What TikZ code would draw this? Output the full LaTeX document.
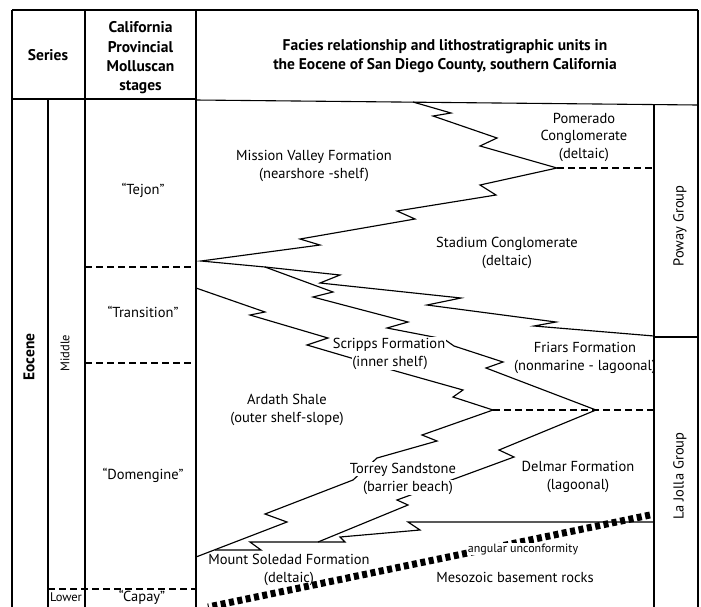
\documentclass[tikz,border=0pt]{standalone}
\usepackage{fontspec}
\setmainfont{PT Sans}
\usetikzlibrary{positioning}
\newcommand{\unitfont}{\fontsize{14.5}{17.5}\selectfont}
\newcommand{\hdfont}{\fontsize{15.5}{19.4}\selectfont\bfseries}
\newcommand{\smfont}{\fontsize{12.5}{15}\selectfont}
\begin{document}
\begin{tikzpicture}[
    x=1pt, y=-1pt,
    every node/.style={font=\unitfont, align=center, inner sep=1pt},
    head/.style={font=\hdfont},
    minor/.style={font=\smfont},
    mask/.style={fill=white, inner sep=0.5pt},
    rule/.style={line width=1.1pt},
    zig/.style={line width=1.15pt},
    contact/.style={line width=1.1pt, dash pattern=on 6.5pt off 4.5pt},
    unconf/.style={line width=7pt, dash pattern=on 5pt off 3.5pt}
]
\useasboundingbox (0,0) rectangle (701,606);

% Frame and columns
\draw[rule] (12,10) -- (698,10);
\draw[rule] (12,10) -- (12,612);
\draw[rule] (85,10) -- (85,612);
\draw[rule] (196,10) -- (196,612);
\draw[rule] (698,10) -- (698,612);
\draw[rule] (48,99) -- (48,612);
\draw[rule] (12,99) -- (196,99);
\draw[rule] (196,100) -- (698,105);
\draw[rule] (654,105) -- (654,612);
\draw[rule] (654,337) -- (698,337);

% Stage boundaries
\draw[contact] (85,267) -- (196,267);
\draw[contact] (85,363) -- (196,363);
\draw[contact] (48,589) -- (196,589);

% Pinch-out points
\coordinate (apex) at (201,261);
\coordinate (fork) at (265,267);
\coordinate (pomtip) at (557,168);
\coordinate (tipA) at (493,410);
\coordinate (tipB) at (596,410);
\coordinate (toe) at (318,542);

% Facies contacts
\draw[zig] (413,102) -- (451,113) -- (433,116) -- (497,138) -- (480,146) -- (pomtip)
  -- (480,185) -- (496,195) -- (397,211) -- (415,219) -- (300,239) -- (320,245) -- (apex) -- (fork);
\draw[zig] (fork) -- (340,275) -- (320,283) -- (461,298) -- (427,305) -- (556,322) -- (534,326) -- (654,336);
\draw[zig] (fork) -- (333,292) -- (313,297) -- (408,322) -- (387,328) -- (444,339) -- (454,346)
  -- (503,362) -- (486,368) -- (tipB);
\draw[zig] (196,288) -- (265,312) -- (250,315) -- (328,338) -- (307,345) -- (392,370)
  -- (463,390) -- (453,397) -- (tipA);
\draw[zig] (tipA) -- (422,435) -- (437,441) -- (377,458) -- (353,480) -- (265,514) -- (287,522) -- (196,557);
\draw[zig] (tipB) -- (499,450) -- (514,457) -- (397,500) -- (408,505) -- (toe);
\draw[zig] (215,550) -- (261,550) -- (250,542) -- (345,542) -- (340,537) -- (420,530) -- (408,522) -- (654,522);
\draw[contact] (pomtip) -- (pomtip -| 654,0);
\draw[contact] (tipA) -- (tipA -| 654,0);

% Headers
\node[head, anchor=base] (series) at (48,60) {Series};
\node[head] (stages) at (140.5,58) {California\\Provincial\\Molluscan\\stages};
\node[head] (title) at (445,56) {Facies relationship and lithostratigraphic units in\\the Eocene of San Diego County, southern California};

% Time scale
\node[head, rotate=90] (eocene) at (29,357) {Eocene};
\node[minor, rotate=90] (middle) at (65,353) {Middle};
\node[minor, anchor=base] (lower) at (66,601.5) {Lower};
\node[anchor=base] (tejon) at (143,194) {“Tejon”};
\node[anchor=base] (transition) at (143,317) {“Transition”};
\node[anchor=base] (domengine) at (143,479) {“Domengine”};
\node[anchor=base] (capay) at (142,601.5) {“Capay”};

% Formations
\node (mission) at (314,166) {Mission Valley Formation\\(nearshore -shelf)};
\node (pomerado) at (584,137) {Pomerado\\Conglomerate\\(deltaic)};
\node (stadium) at (507,253) {Stadium Conglomerate\\(deltaic)};
\node[mask, anchor=base] (scripps) at (389,348) {Scripps Formation};
\node[mask, anchor=base] (scripps2) at (390,366) {(inner shelf)};
\node (friars) at (585,358) {Friars Formation\\(nonmarine - lagoonal)};
\node (ardath) at (287,410) {Ardath Shale\\(outer shelf-slope)};
\node[mask, anchor=base] (torrey) at (403,473) {Torrey Sandstone};
\node[mask, anchor=base] (torrey2) at (408,491) {(barrier beach)};
\node (delmar) at (578,477) {Delmar Formation\\(lagoonal)};
\node (soledad) at (289,570) {Mount Soledad Formation\\(deltaic)};
\node[anchor=base] (basement) at (515,582) {Mesozoic basement rocks};

% Groups
\node[rotate=90] (poway) at (680,226) {Poway Group};
\node[rotate=90] (lajolla) at (680,476) {La Jolla Group};

% Unconformity
\draw[unconf] (650,515) -- (208,607);
\node[mask, minor, anchor=base, font=\fontsize{12}{14}\selectfont] (angular) at (523,552) {angular unconformity};

\end{tikzpicture}
\end{document}
